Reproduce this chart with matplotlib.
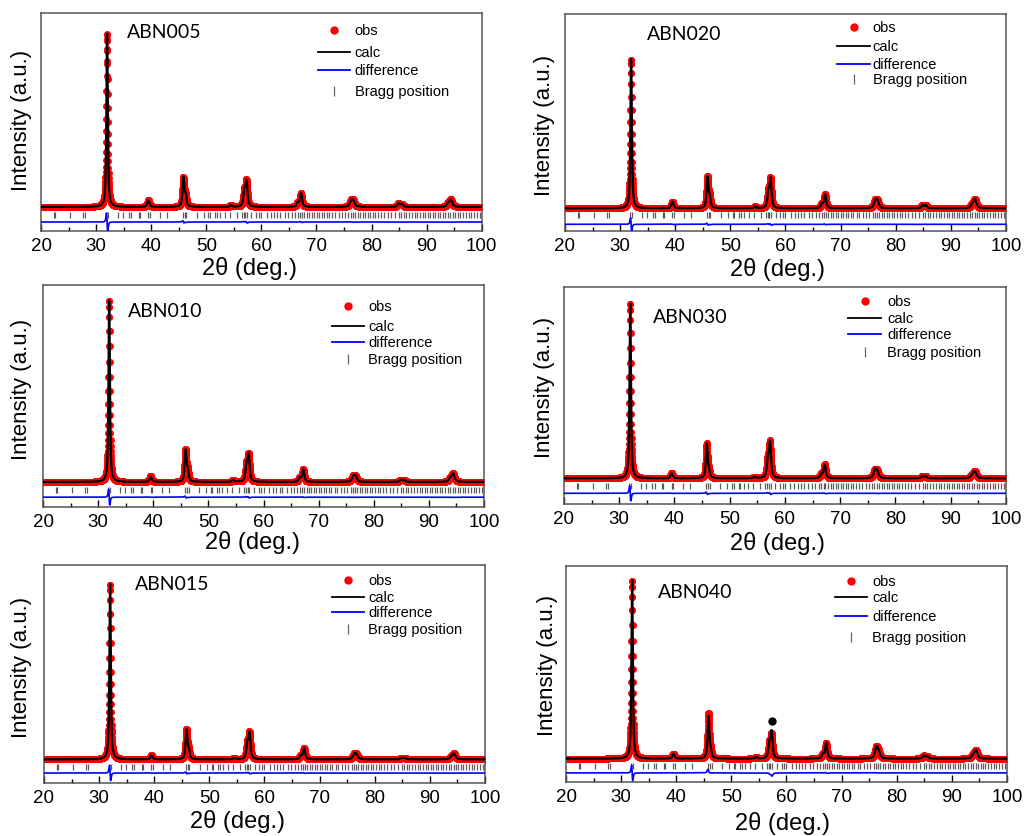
import numpy as np
import matplotlib
matplotlib.use("Agg")
import matplotlib.pyplot as plt
from matplotlib.ticker import MultipleLocator

plt.rcParams['font.family'] = ['Liberation Sans', 'DejaVu Sans']

# sample names, one per panel (left column then right column)
SAMPLES = ["ABN005", "ABN020", "ABN010", "ABN030", "ABN015", "ABN040"]

# reflections (2theta in degrees) and their widths
PEAK_POS = [32.0, 39.5, 45.85, 46.25, 54.5, 56.9, 57.3, 66.6, 67.2,
            76.3, 76.7, 84.9, 85.5, 93.9, 94.4]
PEAK_FWHM = [0.30, 0.45, 0.38, 0.40, 0.45, 0.42, 0.42, 0.45, 0.45,
             0.60, 0.60, 0.50, 0.50, 0.60, 0.60]

# observed peak heights (main peak = 100)
OBS_HEIGHTS = {
    "ABN005": [100, 3.8, 16.5, 6, 1.0, 8.5, 14.5, 2.3, 7.8, 3.2, 3.0, 1.9, 1.7, 1.7, 4.0],
    "ABN020": [100, 4.5, 20.5, 7, 1.2, 10, 19, 2.8, 9.2, 4.7, 4.2, 2.1, 1.9, 2.4, 5.8],
    "ABN010": [100, 3.1, 17, 6, 1.0, 9, 14.5, 2.3, 6.8, 2.8, 2.6, 1.2, 1.1, 1.9, 4.3],
    "ABN030": [100, 2.9, 19.5, 3.5, 0.8, 10, 20, 2.3, 7.8, 4.3, 3.3, 1.3, 1.1, 1.7, 3.8],
    "ABN015": [100, 2.3, 16.5, 5, 0.8, 8.5, 14.5, 2.0, 6.3, 2.8, 2.3, 0.9, 0.8, 1.4, 3.1],
    "ABN040": [100, 2.8, 25, 3.5, 0.8, 8, 13, 2.3, 8.8, 5.8, 3.3, 1.6, 1.4, 1.9, 4.4],
}
# calculated heights where they differ from the observed ones
CALC_HEIGHTS = {
    "ABN040": [100, 2.8, 23.5, 3.5, 0.8, 8.5, 14.5, 2.3, 8.8, 5.8, 3.3, 1.6, 1.4, 1.9, 4.4],
}
# small offset of the observed pattern vs the fit (deg)
OBS_SHIFT = {"ABN005": -0.012, "ABN020": -0.010, "ABN010": -0.010,
             "ABN030": -0.010, "ABN015": -0.010, "ABN040": -0.010}
# odd black point on top of the 57 deg peak in ABN040
BLACK_POINT = {"ABN040": (57.3, 21.0)}

# Bragg reflection markers
BRAGG_POS = [22.3, 22.6, 25.3, 27.7, 28.0, 31.8, 32.1, 34.0, 34.9, 36.0, 36.4,
             37.7, 38.0, 39.5, 39.8, 41.6, 42.9, 45.8, 46.1, 46.4, 48.3, 49.5,
             50.4, 50.7, 51.6, 51.9, 52.5, 53.4, 54.3, 55.5, 56.4, 56.8, 57.1,
             57.4, 58.2, 59.1, 59.6, 60.0, 61.0, 61.7, 62.3, 62.9, 63.4, 64.2,
             64.9, 65.5, 66.1, 66.6, 67.0, 67.3, 67.8, 68.3, 68.7, 69.2, 69.6,
             70.1, 70.5, 71.0, 71.4, 71.9, 72.3, 72.9, 73.4, 74.0, 74.6, 75.2,
             75.8, 76.2, 76.6, 77.0, 77.5, 77.9, 78.4, 78.8, 79.3, 79.7, 80.2,
             80.7, 81.2, 81.7, 82.3, 82.9, 83.5, 84.2, 84.9, 85.3, 85.8, 86.3,
             86.8, 87.3, 87.8, 88.3, 88.8, 89.3, 89.7, 90.2, 90.6, 91.1, 91.5,
             92.0, 92.4, 92.9, 93.4, 93.9, 94.3, 94.7, 95.2, 95.7, 96.1, 96.6,
             97.1, 97.6, 98.1, 98.6, 99.1, 99.6]

X_TICKS = [20, 30, 40, 50, 60, 70, 80, 90, 100]

# per panel: y-limits, Bragg row level, difference offset
Y_LIMITS = {"ABN005": (-13.9, 112.1), "ABN020": (-15.2, 130.2),
            "ABN010": (-13.8, 108.6), "ABN030": (-14.7, 109.6),
            "ABN015": (-13.5, 111.0), "ABN040": (-13.1, 108.0)}
BRAGG_LEVEL = {"ABN005": -4.7, "ABN020": -4.7, "ABN010": -4.6,
               "ABN030": -4.6, "ABN015": -4.4, "ABN040": -4.3}
DIFF_LEVEL = {"ABN005": -8.7, "ABN020": -10.7, "ABN010": -8.4,
              "ABN030": -8.6, "ABN015": -7.8, "ABN040": -8.0}

# layout (figure fractions / axes fractions)
AX_RECTS = {"ABN005": [0.040, 0.7228, 0.430, 0.2605],
            "ABN020": [0.5512, 0.7228, 0.4302, 0.2593],
            "ABN010": [0.0420, 0.3931, 0.4302, 0.2652],
            "ABN030": [0.5502, 0.3967, 0.4312, 0.2593],
            "ABN015": [0.0429, 0.0633, 0.4302, 0.2605],
            "ABN040": [0.5522, 0.0645, 0.4302, 0.2581]}
NAME_POS = {"ABN005": (0.195, 0.913), "ABN020": (0.186, 0.908),
            "ABN010": (0.193, 0.883), "ABN030": (0.201, 0.866),
            "ABN015": (0.206, 0.913), "ABN040": (0.209, 0.884)}
# handle left, handle right, text x, row ys
LEG_POS = {"ABN005": (0.628, 0.701, 0.712, [0.922, 0.821, 0.739, 0.642]),
           "ABN020": (0.617, 0.692, 0.698, [0.940, 0.853, 0.770, 0.700]),
           "ABN010": (0.655, 0.728, 0.737, [0.905, 0.815, 0.743, 0.667]),
           "ABN030": (0.643, 0.717, 0.731, [0.935, 0.857, 0.783, 0.700]),
           "ABN015": (0.653, 0.726, 0.735, [0.931, 0.853, 0.784, 0.706]),
           "ABN040": (0.610, 0.683, 0.694, [0.931, 0.856, 0.769, 0.671])}
XLABEL_POS = {"ABN005": (0.474, -0.115), "ABN020": (0.481, -0.12),
              "ABN010": (0.474, -0.105), "ABN030": (0.484, -0.124),
              "ABN015": (0.438, -0.119), "ABN040": (0.492, -0.134)}
YLABEL_POS = {"ABN005": (-0.020, 0.51), "ABN020": (-0.023, 0.49),
              "ABN010": (-0.025, 0.536), "ABN030": (-0.020, 0.54),
              "ABN015": (-0.027, 0.534), "ABN040": (-0.018, 0.546)}


def pseudo_voigt(x, pos, fwhm, height, eta=0.7):
    d = (x - pos) / fwhm
    gauss = np.exp(-4 * np.log(2) * d ** 2)
    lorentz = 1 / (1 + 4 * d ** 2)
    return height * (eta * lorentz + (1 - eta) * gauss)


def pattern(x, heights, shift=0.0):
    y = np.zeros_like(x)
    for p, w, h in zip(PEAK_POS, PEAK_FWHM, heights):
        y += pseudo_voigt(x, p + shift, w, h)
    return y


two_theta = np.arange(20, 100.001, 0.02)

fig = plt.figure(figsize=(10.25, 8.37), dpi=100)

for name in SAMPLES:
    ax = fig.add_axes(AX_RECTS[name])
    obs_h = OBS_HEIGHTS[name]
    calc_h = CALC_HEIGHTS.get(name, obs_h)
    obs = pattern(two_theta, obs_h, OBS_SHIFT[name])
    calc = pattern(two_theta, calc_h)
    diff = obs - calc + DIFF_LEVEL[name]

    ax.plot(two_theta, obs, 'o', color='red', markersize=5,
            markeredgewidth=0, zorder=2)
    ax.plot(two_theta, calc, color='black', lw=1.6, zorder=3)
    ax.plot(two_theta, diff, color='blue', lw=1.2, zorder=3)
    ax.plot(BRAGG_POS, [BRAGG_LEVEL[name]] * len(BRAGG_POS), '|',
            color='0.1', markersize=5, markeredgewidth=0.9, alpha=0.7)
    if name in BLACK_POINT:
        bx, by = BLACK_POINT[name]
        ax.plot(bx, by, 'o', color='black', markersize=5, zorder=4)

    ax.set_xlim(20, 100)
    ax.set_ylim(*Y_LIMITS[name])
    ax.set_xticks(X_TICKS)
    ax.xaxis.set_minor_locator(MultipleLocator(5))
    ax.set_yticks([])
    ax.tick_params(axis='x', which='major', direction='in', length=5,
                   width=1, labelsize=13.5, pad=4, top=False)
    ax.tick_params(axis='x', which='minor', direction='in', length=3,
                   width=1, top=False)
    for sp in ax.spines.values():
        sp.set_color('#555555')
        sp.set_linewidth(1.1)

    ax.set_xlabel(u"2\u03b8 (deg.)", fontsize=17)
    ax.xaxis.set_label_coords(*XLABEL_POS[name])
    ax.set_ylabel("Intensity (a.u.)", fontsize=16)
    ax.yaxis.set_label_coords(*YLABEL_POS[name])

    nx, ny = NAME_POS[name]
    ax.text(nx, ny, name, transform=ax.transAxes, fontsize=14,
            family=['Lato', 'DejaVu Sans'], va='center', ha='left')

    x0, x1, xt, rows = LEG_POS[name]
    xm = (x0 + x1) / 2
    ax.plot([xm], [rows[0]], 'o', color='red', markersize=5,
            transform=ax.transAxes, clip_on=False)
    ax.plot([x0, x1], [rows[1], rows[1]], color='black', lw=1.3,
            transform=ax.transAxes)
    ax.plot([x0, x1], [rows[2], rows[2]], color='blue', lw=1.3,
            transform=ax.transAxes)
    ax.plot([xm], [rows[3]], '|', color='0.4', markersize=7,
            markeredgewidth=0.9, transform=ax.transAxes)
    for label, ry in zip(["obs", "calc", "difference", "Bragg position"], rows):
        ax.text(xt, ry, label, transform=ax.transAxes, fontsize=10.5,
                va='center', ha='left')

fig.savefig("out.png", dpi=100)
